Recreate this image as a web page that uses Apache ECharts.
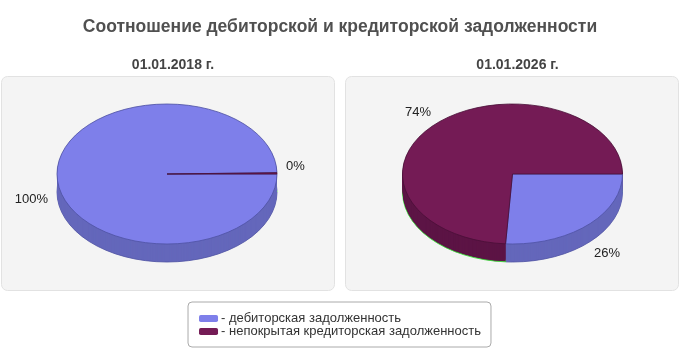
<!DOCTYPE html>
<html>
<head>
    <meta http-equiv=Content-Type content="text/html; charset=utf-8">
    <title>Соотношение задолженности</title>
    <script type="text/javascript" src="https://cdn.jsdelivr.net/npm/echarts@6/dist/echarts.min.js"></script>
    <style>
        html, body { margin: 0; padding: 0; background: #fff; }
        #chartmain { width: 680px; height: 350px; }
    </style>
</head>
<body>
<div id="chartmain"></div>

<script type="text/javascript">
    // данные (в процентах)
    var dates = ['01.01.2018 г.', '01.01.2026 г.'];
    var categories = ['дебиторская задолженность', 'непокрытая кредиторская задолженность'];
    var debitShare = [99.7, 26];   // дебиторская
    var creditShare = [0.3, 74];   // непокрытая кредиторская

    // оформление
    var topColors = ['#7e7fea', '#741b55'];
    var sideColors = ['#6467bb', '#5c1445'];
    var edgeColors = ['#4f52a3', '#4a0f37'];
    var bottomEdge = ['#4f52a3', '#2ee82e'];
    var centers = [[167, 174], [512.5, 174]];
    var RX = 110, RY = 70, DEPTH = 18;
    var FONT = '"Liberation Sans", Arial, sans-serif';

    var shares = [debitShare, creditShare];

    function renderPie(params, api) {
        var s = params.seriesIndex, i = params.dataIndex;
        var total = 0, before = 0;
        for (var k = 0; k < shares.length; k++) {
            total += shares[k][i];
            if (k < s) before += shares[k][i];
        }
        var v = api.value(0);
        var a0 = before / total * Math.PI * 2;
        var a1 = (before + v) / total * Math.PI * 2;
        var cx = centers[i][0], cy = centers[i][1];
        var children = [];
        // боковая стенка
        for (var d = DEPTH; d >= 1; d--) {
            children.push({
                type: 'sector',
                x: cx, y: cy + d, scaleY: RY / RX,
                shape: {cx: 0, cy: 0, r: RX, r0: 0, startAngle: a0, endAngle: a1, clockwise: true},
                style: {fill: sideColors[s], stroke: d === DEPTH ? bottomEdge[s] : null, lineWidth: 1, strokeNoScale: true},
                z2: 1 + (DEPTH - d) * 0.01
            });
        }
        // верх
        children.push({
            type: 'sector',
            x: cx, y: cy, scaleY: RY / RX,
            shape: {cx: 0, cy: 0, r: RX, r0: 0, startAngle: a0, endAngle: a1, clockwise: true},
            style: {fill: topColors[s], stroke: edgeColors[s], lineWidth: 1, strokeNoScale: true},
            z2: 10 + s
        });
        // подпись: снаружи, в нижней половине сдвиг на высоту
        var mid = (a0 + a1) / 2;
        var sn = Math.sin(mid), cs = Math.cos(mid);
        children.push({
            type: 'text',
            style: {
                text: Math.round(v / total * 100) + '%',
                x: cx + cs * (RX + 9),
                y: cy + sn * (RY + 5) + (sn >= 0 ? DEPTH : 0),
                align: cs < 0 ? 'right' : 'left',
                verticalAlign: sn >= 0 ? 'top' : 'bottom',
                font: '13px ' + FONT, fill: '#222'
            },
            z2: 20
        });
        return {type: 'group', children: children};
    }

    var myChart = echarts.init(document.getElementById('chartmain'));

    var option = {
        animation: false,
        color: topColors,
        title: [
            {text: 'Соотношение дебиторской и кредиторской задолженности', left: 'center', top: 13,
                textStyle: {fontSize: 17.5, fontWeight: 'bold', color: '#505050', fontFamily: FONT}},
            {text: dates[0], left: centers[0][0] + 1, textAlign: 'center', top: 53,
                textStyle: {fontSize: 14, fontWeight: 'bold', color: '#444', fontFamily: FONT}},
            {text: dates[1], left: centers[1][0], textAlign: 'center', top: 53,
                textStyle: {fontSize: 14, fontWeight: 'bold', color: '#444', fontFamily: FONT}}
        ],
        graphic: [
            {type: 'rect', left: 1, top: 76, z: -1, shape: {width: 333, height: 214, r: 6},
                style: {fill: '#f4f4f4', stroke: '#e2e2e2', lineWidth: 1}},
            {type: 'rect', left: 345, top: 76, z: -1, shape: {width: 333, height: 214, r: 6},
                style: {fill: '#f4f4f4', stroke: '#e2e2e2', lineWidth: 1}}
        ],
        legend: {
            orient: 'vertical',
            left: 'center',
            top: 302,
            selectedMode: false,
            data: categories,
            icon: 'roundRect',
            itemWidth: 19,
            itemHeight: 7,
            itemGap: 0,
            padding: [10, 10, 9, 11],
            backgroundColor: '#fff',
            borderColor: '#aaa',
            borderWidth: 1,
            borderRadius: 4,
            formatter: function (name) { return '- ' + name; },
            textStyle: {fontSize: 13, lineHeight: 13, color: '#333', fontFamily: FONT, padding: [0, 0, 0, -2]}
        },
        series: categories.map(function (name, s) {
            return {
                name: name,
                type: 'custom',
                coordinateSystem: 'none',
                itemStyle: {color: topColors[s]},
                renderItem: renderPie,
                data: shares[s].map(function (v) { return [v]; })
            };
        })
    };

    myChart.setOption(option);
</script>
</body>
</html>
